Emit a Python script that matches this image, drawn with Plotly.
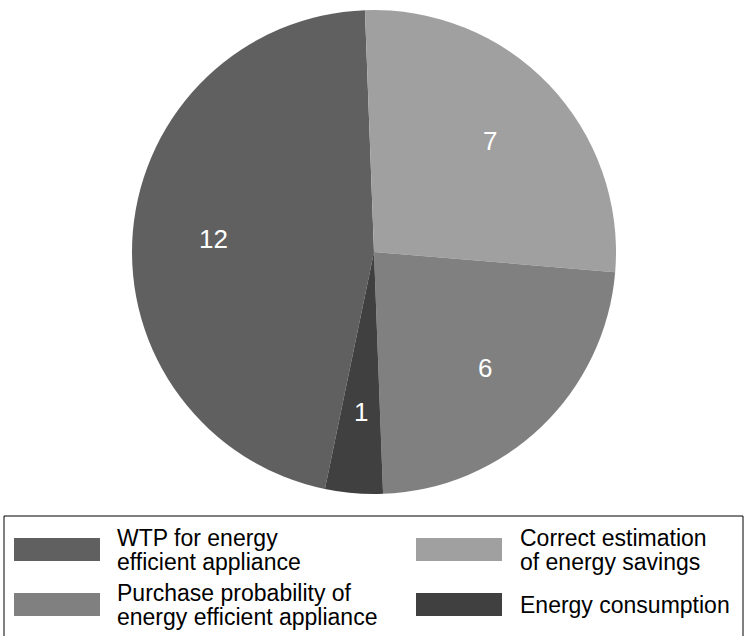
import math
import plotly.graph_objects as go

# Data (clockwise order starting with the WTP slice)
labels = ["WTP for energy efficient appliance",
          "Correct estimation of energy savings",
          "Purchase probability of energy efficient appliance",
          "Energy consumption"]
values = [12, 7, 6, 1]
colors = ["#606060", "#a0a0a0", "#808080", "#404040"]
legend_lines = [["WTP for energy", "efficient appliance"],
                ["Correct estimation", "of energy savings"],
                ["Purchase probability of", "energy efficient appliance"],
                ["Energy consumption"]]

W, H = 745, 636
FONT = "Liberation Sans, Arial, sans-serif"
ROTATION = 191.7


def px(x):
    return x / W


def py(y):
    return 1 - y / H


cx, cy, R = 374, 252, 242

fig = go.Figure()
fig.add_trace(go.Pie(
    labels=labels, values=values, sort=False, direction="clockwise",
    rotation=ROTATION,
    marker=dict(colors=colors, line=dict(width=0)),
    textinfo="none",
    domain=dict(x=[px(cx - R), px(cx + R)], y=[py(cy + R), py(cy - R)]),
    showlegend=False, hoverinfo="label+value",
))

annotations = []
# value labels along each slice's bisector
total = sum(values)
cum = 0
for v in values:
    mid = math.radians(ROTATION + (cum + v / 2) / total * 360)
    cum += v
    lx = cx + 0.665 * R * math.sin(mid)
    ly = cy - 0.665 * R * math.cos(mid)
    annotations.append(dict(text=str(v), xref="paper", yref="paper",
                            x=px(lx), y=py(ly), xanchor="center", yanchor="middle",
                            showarrow=False, font=dict(size=26, color="white", family=FONT)))

shapes = [dict(type="rect", xref="paper", yref="paper",
               x0=px(4), x1=px(743), y0=py(516), y1=py(660),
               line=dict(color="black", width=1), fillcolor="rgba(0,0,0,0)")]
col_sw_x = [14, 416]
col_tx_x = [115, 518]
row_sw_y = [538, 593]
sw_w, sw_h = 86, 23
for i, (lines, col) in enumerate(zip(legend_lines, colors)):
    r, c = divmod(i, 2)
    x0 = col_sw_x[c]
    y0 = row_sw_y[r]
    shapes.append(dict(type="rect", xref="paper", yref="paper",
                       x0=px(x0), x1=px(x0 + sw_w), y0=py(y0 + sw_h), y1=py(y0),
                       line=dict(width=0), fillcolor=col))
    yc = y0 + sw_h / 2
    n = len(lines)
    for k, t in enumerate(lines):
        ly = yc + (k - (n - 1) / 2) * 24
        annotations.append(dict(text=t, xref="paper", yref="paper",
                                x=px(col_tx_x[c]), y=py(ly), xanchor="left", yanchor="middle",
                                showarrow=False, font=dict(size=23, color="black", family=FONT)))

fig.update_layout(width=W, height=H, margin=dict(l=0, r=0, t=0, b=0),
                  paper_bgcolor="white", plot_bgcolor="white",
                  shapes=shapes, annotations=annotations)
fig.write_html("out.html")
